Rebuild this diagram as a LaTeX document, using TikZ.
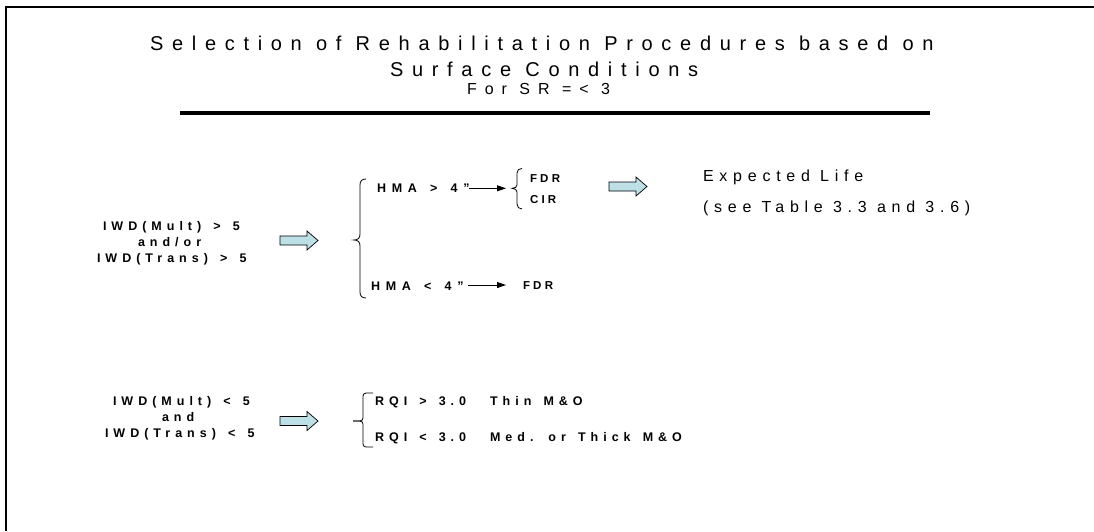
\documentclass[tikz,border=0pt]{standalone}
\usepackage{fontspec}
\setmainfont{Liberation Sans}
\newfontfamily\ttlfont[LetterSpace=43.5]{Liberation Sans}
\newfontfamily\subfont[LetterSpace=50]{Liberation Sans}
\newfontfamily\lifefont[LetterSpace=36]{Liberation Sans}
\newfontfamily\condfont[LetterSpace=40,WordSpace=1.43]{Liberation Sans}
\newfontfamily\hmafont[LetterSpace=46,WordSpace=1.43]{Liberation Sans}
\newfontfamily\smallfont[LetterSpace=28]{Liberation Sans}
\newcommand\ttlsetup{\ttlfont\fontsize{20}{24}\selectfont}
\newcommand\subsetup{\subfont\fontsize{16}{19}\selectfont}
\newcommand\lifesetup{\lifefont\fontsize{16}{19}\selectfont}
\newcommand\condsetup{\condfont\bfseries\fontsize{12.5}{15}\selectfont}
\newcommand\hmasetup{\hmafont\bfseries\fontsize{12.5}{15}\selectfont}
\newcommand\smlsetup{\smallfont\bfseries\fontsize{11.5}{14}\selectfont}
\usetikzlibrary{arrows.meta}
\definecolor{arrowfill}{RGB}{188,224,230}
\tikzset{
  txt/.style={anchor=base west, inner sep=0pt, outer sep=0pt},
  ttl/.style={txt, font=\ttlsetup},
  sub/.style={txt, font=\subsetup},
  life/.style={txt, font=\lifesetup},
  cond/.style={txt, font=\condsetup},
  hma/.style={txt, font=\hmasetup},
  sml/.style={txt, font=\smlsetup},
  bracepath/.style={draw=black, line width=0.8pt},
  thinarrow/.style={draw=black, line width=0.8pt, -{Triangle[length=9pt,width=6pt]}},
  blockstyle/.style={draw=black, line width=0.7pt, fill=arrowfill, line join=miter},
  blockarrow/.pic={\path[blockstyle] (0,-4.5) -- (27,-4.5) -- (27,-9.5) -- (38,0) -- (27,9.5) -- (27,4.5) -- (0,4.5) -- cycle;}
}
\begin{document}
\begin{tikzpicture}[x=1pt,y=-1pt]
\useasboundingbox (0,0) rectangle (1094,531);
% frame
\draw[line width=2.4pt] (6,531) -- (6,7) -- (1094,7);
% title
\node[ttl] (t1) at (150,50) {Selection of Rehabilitation Procedures based on};
\node[ttl] (t2) at (390,76) {Surface Conditions};
\node[sub] (t3) at (467,94) {For SR =< 3};
\draw[line width=4pt] (180,113) -- (930,113);
% upper condition
\node[cond] (a1) at (103,230.5) {IWD(Mult) > 5};
\node[cond] (a2) at (138,246.5) {and/or};
\node[cond] (a3) at (97,262.5) {IWD(Trans) > 5};
\pic at (280,240.5) {blockarrow};
% big brace
\draw[bracepath] (366,179) .. controls (362,179) and (360,181) .. (360,185) -- (360,234)
  .. controls (360,238) and (358,240) .. (354,240)
  .. controls (358,240) and (360,242) .. (360,246) -- (360,292)
  .. controls (360,296) and (362,298) .. (366,298);
\node[hma] (h1) at (377,192.5) {HMA > 4”};
\coordinate (h1s) at (469,188.3);
\coordinate (h1t) at (506,188.3);
\draw[thinarrow] (h1s) -- (h1t);
% small brace
\draw[bracepath] (522,168.5) .. controls (519,168.5) and (517,170) .. (517,173) -- (517,185)
  .. controls (517,187) and (515,188.3) .. (512,188.3)
  .. controls (515,188.3) and (517,190) .. (517,192) -- (517,204)
  .. controls (517,207) and (519,209) .. (522,209);
\node[sml] (f1) at (530,182.3) {FDR};
\node[sml] (f2) at (530,203.3) {CIR};
\node[hma] (h2) at (371,290) {HMA < 4”};
\coordinate (h2s) at (468,285);
\coordinate (h2t) at (506,285);
\draw[thinarrow] (h2s) -- (h2t);
\node[sml] (f3) at (523,289.5) {FDR};
\pic at (609,186.5) {blockarrow};
\node[life] (e1) at (703,181.7) {Expected Life};
\node[life] (e2) at (703,212) {(see Table 3.3 and 3.6)};
% lower condition
\node[cond] (b1) at (113,405.7) {IWD(Mult) < 5};
\node[cond] (b2) at (162,421.7) {and};
\node[cond] (b3) at (105,437.7) {IWD(Trans) < 5};
\pic at (280,421) {blockarrow};
\draw[bracepath, rounded corners=3pt] (373,393) -- (363,393) -- (363,421) -- (353,421);
\draw[bracepath, rounded corners=3pt] (353,421) -- (363,421) -- (363,447) -- (373,447);
\node[cond] (r1) at (375,405.7) {RQI > 3.0};
\node[cond] (m1) at (490,405.7) {Thin M\&O};
\node[cond] (r2) at (375,441) {RQI < 3.0};
\node[cond] (m2) at (490,441) {Med. or Thick M\&O};
\end{tikzpicture}
\end{document}
